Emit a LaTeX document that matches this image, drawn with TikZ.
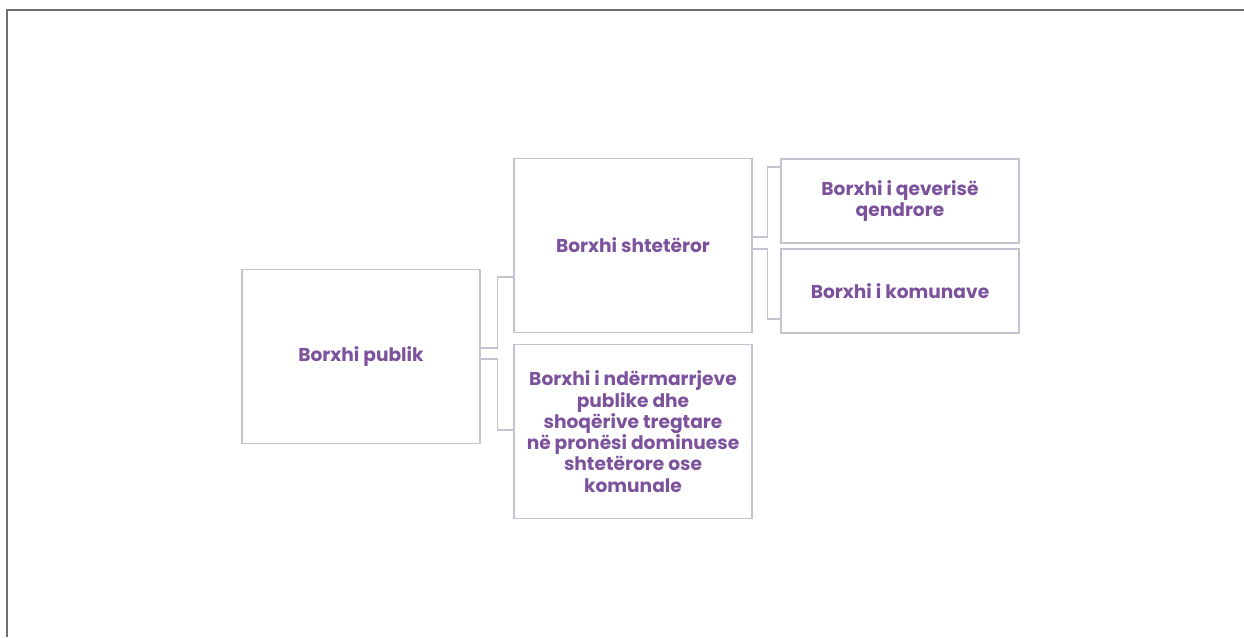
\documentclass[tikz,border=0pt]{standalone}
\usepackage{fontspec}
\setmainfont{Poppins}
\usetikzlibrary{calc}

\definecolor{debtpurple}{RGB}{124,82,156}
\definecolor{boxgray}{RGB}{198,194,210}
\definecolor{framegray}{RGB}{112,112,112}

\begin{document}
\begin{tikzpicture}[x=0.02cm, y=-0.02cm]
        % Box sizes
        \pgfmathsetmacro{\boxw}{4.76}
        \pgfmathsetmacro{\bigh}{3.48}
        \pgfmathsetmacro{\smallh}{1.68}

        \tikzset{
            debtbox/.style={draw=boxgray, line width=0.7pt, align=center,
            inner sep=2pt, text=debtpurple, font=\bfseries\fontsize{10.6}{12.1}\selectfont,
            minimum width=\boxw cm},
            bigbox/.style={debtbox, minimum height=\bigh cm},
            smallbox/.style={debtbox, minimum height=\smallh cm},
            link/.style={draw=boxgray, line width=0.7pt},
        }

        \useasboundingbox (0, 0) rectangle (1244, 637);

        % Outer page frame (only top and left edges show)
        \draw[framegray, line width=0.8pt] (7, 637) -- (7, 10) -- (1244, 10);

        % Scope with the boxes
        \begin{scope}
            \node[bigbox] (publik) at (361, 356.5) {Borxhi publik};
            \node[bigbox] (shtet) at (633, 245.5) {Borxhi shtetëror};
            \node[bigbox] (ndermarr) at (633, 431.5) {Borxhi i ndërmarrjeve\\
            publike dhe\\ shoqërive tregtare\\ në pronësi dominuese\\
            shtetërore ose\\ komunale};
            \node[smallbox] (qeveri) at (900, 201) {Borxhi i qeverisë\\ qendrore};
            \node[smallbox] (komuna) at (900, 291) {Borxhi i komunave};
        \end{scope}

        % Elbow connectors
        \begin{scope}
            \draw[link] ([yshift=0.17cm]publik.east) -- ++(17, 0)
            |- ([yshift=-0.63cm]shtet.west);
            \draw[link] ([yshift=-0.05cm]publik.east) -- ++(17, 0)
            |- ([yshift=0.03cm]ndermarr.west);

            \draw[link] ([yshift=0.17cm]shtet.east) -- ++(15, 0)
            |- ([yshift=0.68cm]qeveri.west);
            \draw[link] ([yshift=-0.07cm]shtet.east) -- ++(15, 0)
            |- ([yshift=-0.56cm]komuna.west);
        \end{scope}

        \end{tikzpicture}
\end{document}
